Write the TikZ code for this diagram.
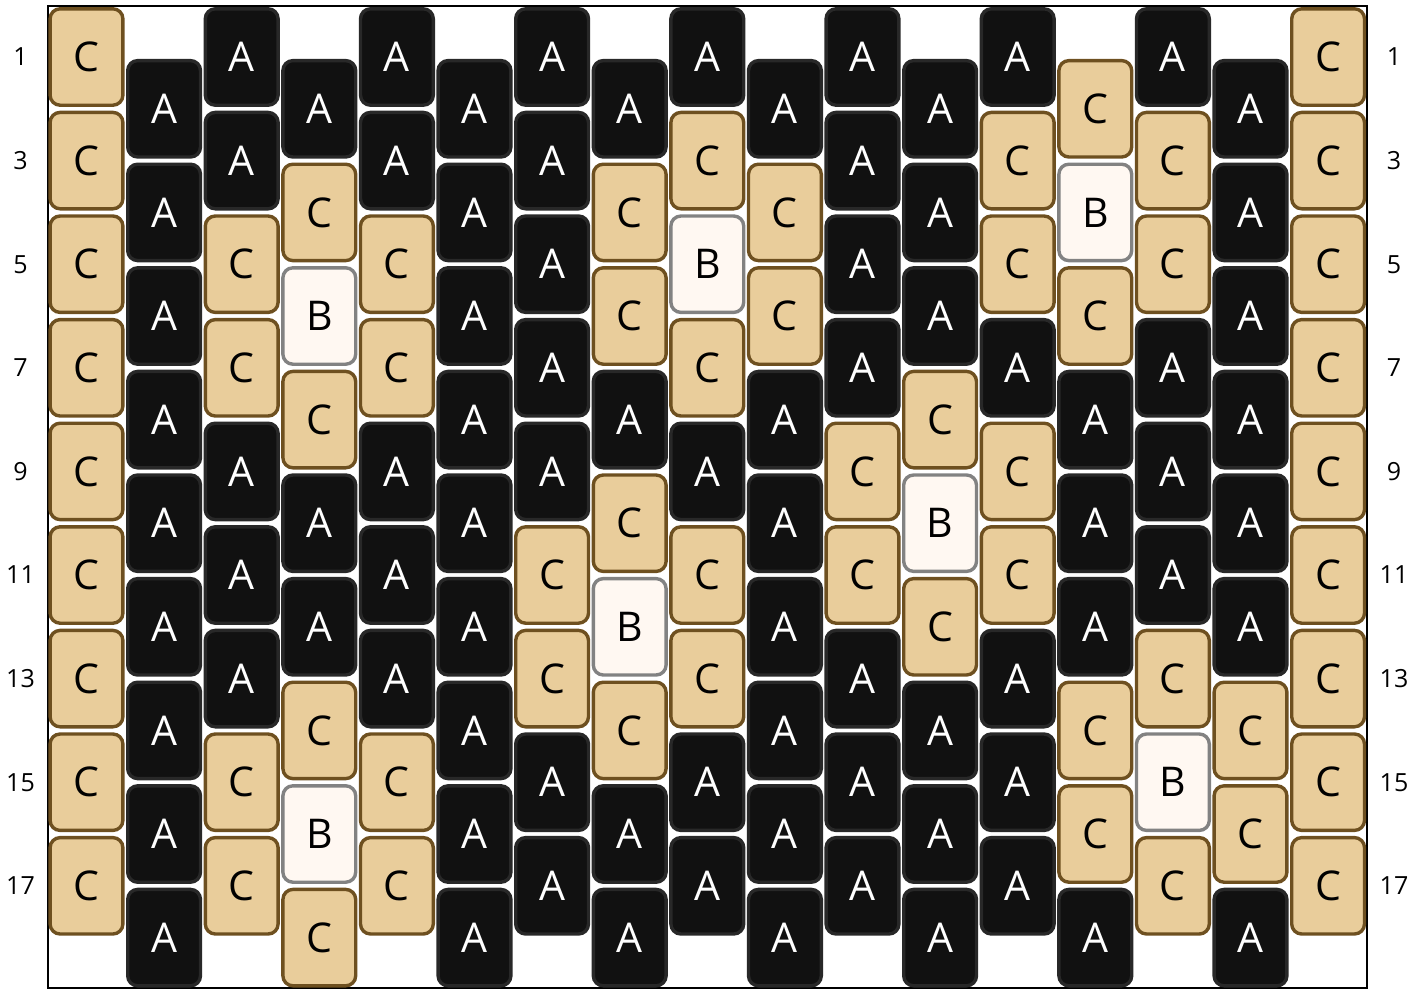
\documentclass[tikz,border=0pt]{standalone}
\usepackage{fontspec}
\setmainfont{Open Sans}
\definecolor{aFill}{HTML}{111111}
\definecolor{aLine}{HTML}{282828}
\definecolor{cFill}{HTML}{E9CD9B}
\definecolor{cLine}{HTML}{6E5020}
\definecolor{bFill}{HTML}{FFF8F2}
\definecolor{bLine}{HTML}{828282}
\tikzset{
  beadbase/.style={rectangle, rounded corners=10pt, line width=3.4pt,
    minimum width=72.8pt, minimum height=96.4pt, inner sep=0pt,
    font=\fontsize{41}{41}\selectfont},
  beadA/.style={beadbase, fill=aFill, draw=aLine, text=white},
  beadB/.style={beadbase, fill=bFill, draw=bLine, text=black},
  beadC/.style={beadbase, fill=cFill, draw=cLine, text=black},
  rowlab/.style={font=\fontsize{25}{25}\selectfont, text=black, inner sep=0pt},
}
\begin{document}
\begin{tikzpicture}[x=1pt,y=-1pt]
\useasboundingbox (0,0) rectangle (1428,989);
\draw[line width=2pt, black] (48,5.5) rectangle (1367,987.5);
\foreach [count=\i from 0] \colpat in {
  {C,C,C,C,C,C,C,C,C},
  {A,A,A,A,A,A,A,A,A},
  {A,A,C,C,A,A,A,C,C},
  {A,C,B,C,A,A,C,B,C},
  {A,A,C,C,A,A,A,C,C},
  {A,A,A,A,A,A,A,A,A},
  {A,A,A,A,A,C,C,A,A},
  {A,C,C,A,C,B,C,A,A},
  {A,C,B,C,A,C,C,A,A},
  {A,C,C,A,A,A,A,A,A},
  {A,A,A,A,C,C,A,A,A},
  {A,A,A,C,B,C,A,A,A},
  {A,C,C,A,C,C,A,A,A},
  {C,B,C,A,A,A,C,C,A},
  {A,C,C,A,A,A,C,B,C},
  {A,A,A,A,A,A,C,C,A},
  {C,C,C,C,C,C,C,C,C}} {
  \foreach [count=\j from 0] \t in \colpat {
    \pgfmathsetmacro{\bx}{86.5+77.6*\i}
    \pgfmathsetmacro{\by}{57+51.8*(2*\j+mod(\i,2))}
    \node[bead\t] (b-\i-\j) at (\bx,\by) {\t};
  }
}
\foreach \r in {1,3,...,17} {
  \pgfmathsetmacro{\ly}{57+51.8*(\r-1)}
  \node[rowlab] (l-\r) at (20.5,\ly) {\r};
  \node[rowlab] (r-\r) at (1394,\ly) {\r};
}
\end{tikzpicture}
\end{document}
